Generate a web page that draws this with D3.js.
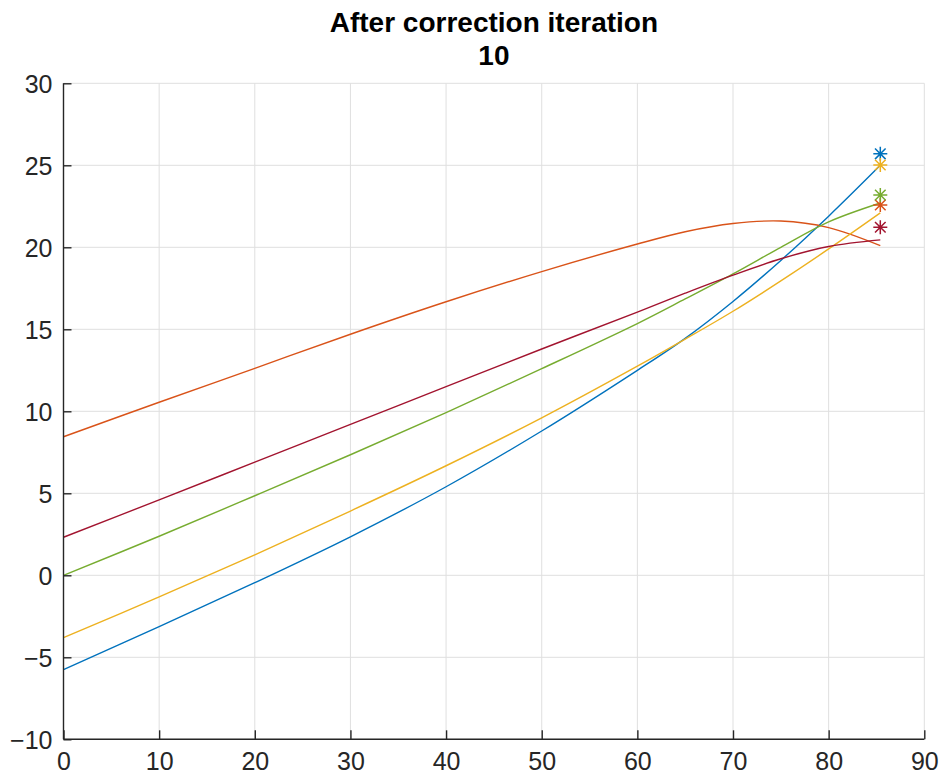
<!DOCTYPE html>
<html>
<head>
<meta charset="utf-8">
<script src="https://cdn.jsdelivr.net/npm/d3@7"></script>
<style>
  html, body { margin: 0; padding: 0; background: #fff; }
  svg { display: block; }
</style>
</head>
<body>
<svg id="chart" width="945" height="784"></svg>
<script>
// ---- Data ----
const titleLines = ["After correction iteration", "10"];
const xValues = [0, 10, 20, 30, 40, 50, 60, 65, 70, 75, 80, 85.4];
const seriesBlue   = [-5.75, -3.13, -0.45, 2.35, 5.4, 8.8, 12.5, 14.45, 16.7, 19.2, 21.9, 25.0];
const seriesOrange = [8.45, 10.55, 12.62, 14.7, 16.68, 18.52, 20.2, 20.95, 21.45, 21.6, 21.2, 20.1];
const seriesYellow = [-3.8, -1.32, 1.25, 3.92, 6.68, 9.6, 12.75, 14.4, 16.1, 17.95, 19.9, 22.1];
const seriesGreen  = [0.0, 2.38, 4.85, 7.35, 9.92, 12.6, 15.35, 16.85, 18.38, 20.0, 21.55, 22.7];
const seriesRed    = [2.32, 4.6, 6.9, 9.2, 11.5, 13.8, 16.05, 17.2, 18.3, 19.3, 20.05, 20.45];
const markerX = 85.4;
const markerY = [25.7, 22.58, 25.02, 23.19, 21.22]; // blue, orange, yellow, green, red
const xTicks = [0, 10, 20, 30, 40, 50, 60, 70, 80, 90];
const yTicks = [-10, -5, 0, 5, 10, 15, 20, 25, 30];
const colors = ["#0072BD", "#D95319", "#EDB120", "#77AC30", "#A2142F"];

const seriesList = [seriesBlue, seriesOrange, seriesYellow, seriesGreen, seriesRed];

// ---- Layout ----
const svg = d3.select("#chart");
const pLeft = 63.5, pRight = 924.3, pTop = 83.3, pBottom = 739.3;

const x = d3.scaleLinear().domain([0, 90]).range([pLeft, pRight]);
const y = d3.scaleLinear().domain([-10, 30]).range([pBottom, pTop]);

const axisColor = "#262626";
const gridColor = "#dfdfdf";
const font = "'Liberation Sans', Arial, Helvetica, sans-serif";

// Grid
const grid = svg.append("g");
grid.selectAll("line.gx").data(xTicks).join("line").attr("class", "gx")
  .attr("x1", d => x(d)).attr("x2", d => x(d))
  .attr("y1", pTop).attr("y2", pBottom)
  .attr("stroke", gridColor).attr("stroke-width", 1);
grid.selectAll("line.gy").data(yTicks).join("line").attr("class", "gy")
  .attr("x1", pLeft).attr("x2", pRight)
  .attr("y1", d => y(d)).attr("y2", d => y(d))
  .attr("stroke", gridColor).attr("stroke-width", 1);

// Lines
const line = d3.line()
  .x(d => x(d[0]))
  .y(d => y(d[1]))
  .curve(d3.curveCatmullRom.alpha(0.5));

seriesList.forEach((vals, i) => {
  svg.append("path")
    .datum(xValues.map((xv, j) => [xv, vals[j]]))
    .attr("d", line)
    .attr("fill", "none")
    .attr("stroke", colors[i])
    .attr("stroke-width", 1.4);
});

// Star markers (MATLAB '*')
const r = 7, rd = 5.3;
markerY.forEach((my, i) => {
  const cx = x(markerX), cy = y(my);
  const p = `M${cx - r},${cy}L${cx + r},${cy}M${cx},${cy - r}L${cx},${cy + r}` +
            `M${cx - rd},${cy - rd}L${cx + rd},${cy + rd}M${cx - rd},${cy + rd}L${cx + rd},${cy - rd}`;
  svg.append("path").attr("d", p)
    .attr("stroke", colors[i]).attr("stroke-width", 1.5).attr("fill", "none");
});

// Axes
const xAxis = d3.axisBottom(x).tickValues(xTicks).tickSize(-9).tickPadding(13).tickFormat(d3.format("d"));
const yAxis = d3.axisLeft(y).tickValues(yTicks).tickSize(-8).tickPadding(11).tickFormat(d3.format("d"));

const gx = svg.append("g").attr("transform", `translate(0,${pBottom})`).call(xAxis);
const gy = svg.append("g").attr("transform", `translate(${pLeft},0)`).call(yAxis);

[gx, gy].forEach(g => {
  g.select(".domain").attr("stroke", axisColor).attr("stroke-width", 1.4);
  g.selectAll(".tick line").attr("stroke", axisColor).attr("stroke-width", 1.4);
  g.selectAll(".tick text").attr("fill", axisColor)
    .style("font-family", font).style("font-size", "25px");
});
gx.select(".domain").attr("d", `M${pLeft},0H${pRight}`);
gy.select(".domain").attr("d", `M0,${pBottom}V${pTop}`);
gx.selectAll(".tick text").attr("dy", "0.71em");
gy.selectAll(".tick text").attr("dy", "0.35em");

// Title
svg.append("text")
  .attr("x", (pLeft + pRight) / 2).attr("y", 31.5)
  .attr("text-anchor", "middle")
  .style("font-family", font).style("font-weight", "bold").style("font-size", "28px")
  .attr("fill", "#000")
  .text(titleLines[0]);
svg.append("text")
  .attr("x", (pLeft + pRight) / 2).attr("y", 65)
  .attr("text-anchor", "middle")
  .style("font-family", font).style("font-weight", "bold").style("font-size", "28px")
  .attr("fill", "#000")
  .text(titleLines[1]);
</script>
</body>
</html>
